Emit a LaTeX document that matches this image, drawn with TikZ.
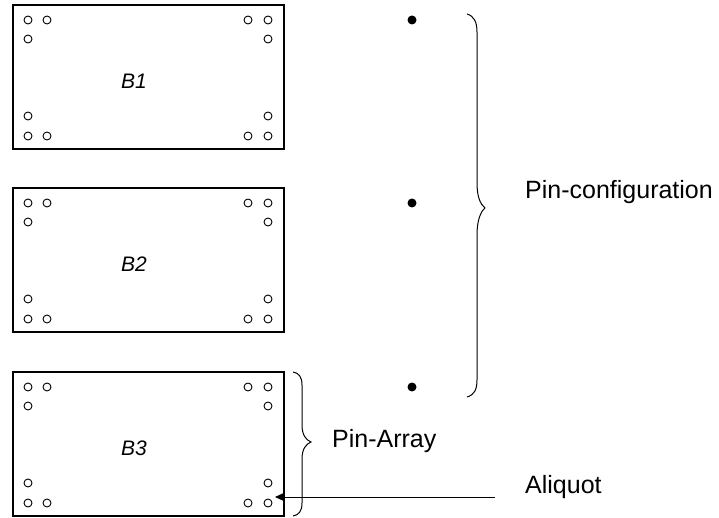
\documentclass[tikz,border=0pt]{standalone}
\usepackage{fontspec}
\setmainfont{Liberation Sans}
\usetikzlibrary{arrows.meta}
\begin{document}
\begin{tikzpicture}[x=1pt,y=-1pt,
  board/.style={draw, line width=1.2pt, minimum width=271pt, minimum height=144pt, inner sep=0pt},
  pin/.style={circle, draw, line width=0.9pt, minimum size=8pt, inner sep=0pt},
  dotpin/.style={circle, fill, minimum size=9pt, inner sep=0pt},
  blabel/.style={font=\fontsize{21}{24}\selectfont\itshape, inner sep=0pt},
  lbl/.style={font=\fontsize{25}{28}\selectfont, anchor=base west, inner sep=0pt},
  brace/.style={line width=1pt}]
\useasboundingbox (0,0) rectangle (719,518);
\foreach \n/\dy in {1/0, 2/183, 3/367} {
  \node[board] (B\n) at (148.5, 77+\dy) {};
  \node[blabel] (L\n) at (134, 81+\dy) {B\n};
  \foreach \px/\py/\k in {28/20/a, 47/20/b, 28/39/c, 248/20/d, 268/20/e, 268/39/f, 28/116/g, 28/136/h, 47/136/i, 268/116/j, 248/136/k, 268/136/l} {
    \node[pin] (p\n\k) at (\px, \py+\dy) {};
  }
}
\node[dotpin] (d1) at (412,20) {};
\node[dotpin] (d2) at (412,203) {};
\node[dotpin] (d3) at (412,387) {};
\draw[brace] (467,14) .. controls (474,16) and (477,22) .. (477,32) -- (477,183) .. controls (477,196) and (480,204) .. (485,208) .. controls (480,212) and (477,222) .. (477,235) -- (477,380) .. controls (477,390) and (474,395) .. (467,397);
\draw[brace] (293,372) .. controls (299,373) and (302,377) .. (302,385) -- (302,425) .. controls (302,435) and (306,440) .. (311,442) .. controls (306,444) and (302,449) .. (302,459) -- (302,503) .. controls (302,511) and (299,515) .. (293,516);
\node[lbl] (pc) at (525,199) {Pin-configuration};
\node[lbl] (pa) at (332,447) {Pin-Array};
\node[lbl] (al) at (525,493) {Aliquot};
\coordinate (aqstart) at (495,497);
\coordinate (aqtip) at (275,497);
\draw[line width=1pt, -{Triangle[length=9pt,width=8pt]}] (aqstart) -- (aqtip);
\end{tikzpicture}
\end{document}
